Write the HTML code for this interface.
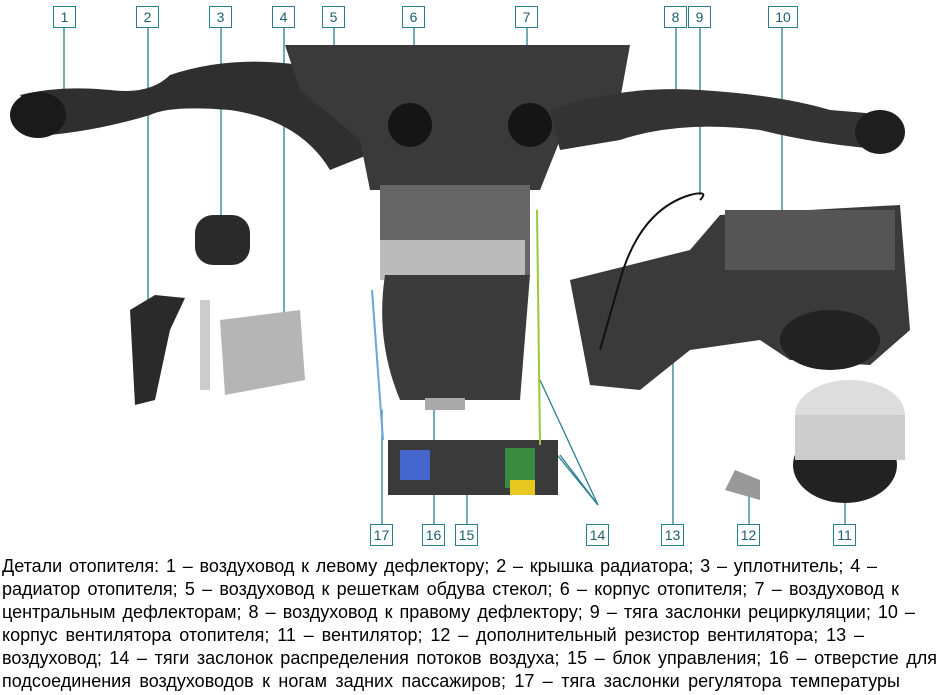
<!DOCTYPE html>
<html><head><meta charset="utf-8"><style>
body{margin:0;width:952px;height:695px;background:#fff;overflow:hidden;position:relative;font-family:"Liberation Sans",sans-serif}
.b{position:absolute;width:21px;height:20px;border:1px solid #2a7f8f;color:#1d5f6f;font-size:14px;text-align:center;line-height:20px;background:#fff}
.cap{position:absolute;left:2px;top:555px;font-size:18px;line-height:23px;color:#000}
.cap div{white-space:nowrap;text-align:justify;text-align-last:justify;overflow:visible}
svg{position:absolute;left:0;top:0}
</style></head><body>
<svg width="952" height="550">
<g stroke="#2a7f8f" stroke-width="1.3">
<line x1="64" y1="28" x2="64" y2="95"/><line x1="148" y1="28" x2="148" y2="310"/><line x1="221" y1="28" x2="221" y2="215"/><line x1="284" y1="28" x2="284" y2="315"/><line x1="334" y1="28" x2="334" y2="60"/><line x1="414" y1="28" x2="414" y2="240"/><line x1="527" y1="28" x2="527" y2="95"/><line x1="676" y1="28" x2="676" y2="95"/><line x1="700" y1="28" x2="700" y2="195"/><line x1="782" y1="28" x2="782" y2="210"/>
<line x1="382" y1="524" x2="382" y2="410"/><line x1="434" y1="524" x2="434" y2="405"/><line x1="467" y1="524" x2="467" y2="480"/><line x1="598" y1="505" x2="545" y2="440"/><line x1="598" y1="505" x2="560" y2="455"/><line x1="598" y1="505" x2="540" y2="380"/><line x1="673" y1="524" x2="673" y2="340"/><line x1="749" y1="524" x2="749" y2="490"/><line x1="845" y1="524" x2="845" y2="455"/>
</g>
<path d="M20 95 Q60 85 110 90 Q150 95 170 75 Q230 55 300 65 L360 70 L380 150 L330 170 Q300 120 230 110 Q170 105 150 115 Q100 130 50 135 Z" fill="#2f2f2f"/>
<ellipse cx="38" cy="115" rx="28" ry="23" fill="#1a1a1a"/>
<path d="M285 45 L630 45 L620 100 L560 140 L540 190 L370 190 L360 140 L300 90 Z" fill="#3a3a3a"/>
<path d="M550 110 Q620 85 700 90 Q780 95 830 110 L890 115 L890 150 Q820 145 760 130 Q680 120 620 140 L560 150 Z" fill="#333"/>
<ellipse cx="880" cy="132" rx="25" ry="22" fill="#1e1e1e"/>
<circle cx="410" cy="125" r="22" fill="#151515"/><circle cx="530" cy="125" r="22" fill="#151515"/>
<rect x="380" y="185" width="150" height="90" fill="#666"/>
<rect x="380" y="240" width="145" height="40" fill="#bbb"/>
<path d="M385 275 L530 275 L520 400 L400 400 Q375 340 385 275Z" fill="#3b3b3b"/>
<rect x="425" y="398" width="40" height="12" fill="#aaa"/>
<path d="M570 280 L690 250 L720 215 L900 205 L910 330 L870 365 L790 360 L760 340 L690 350 L640 390 L590 385 Z" fill="#3a3a3a"/>
<rect x="725" y="210" width="170" height="60" fill="#555"/>
<ellipse cx="830" cy="340" rx="50" ry="30" fill="#222"/>
<path d="M700 200 Q710 190 690 195 Q640 210 620 280 L600 350" stroke="#111" stroke-width="2" fill="none"/>
<ellipse cx="845" cy="465" rx="52" ry="38" fill="#222"/>
<ellipse cx="850" cy="415" rx="55" ry="35" fill="#ddd"/>
<rect x="795" y="415" width="110" height="45" fill="#ccc"/>
<rect x="195" y="215" width="55" height="50" rx="18" fill="#2a2a2a"/>
<path d="M130 310 L155 295 L185 298 L170 330 L155 400 L135 405 Z" fill="#2a2a2a"/>
<rect x="200" y="300" width="10" height="90" fill="#ccc"/>
<path d="M220 320 L300 310 L305 380 L225 395 Z" fill="#b5b5b5"/>
<rect x="388" y="440" width="170" height="55" fill="#3a3a3a"/>
<rect x="400" y="450" width="30" height="30" fill="#4466cc"/><rect x="505" y="448" width="30" height="40" fill="#3a8a40"/><rect x="510" y="480" width="25" height="15" fill="#e6c81e"/>
<path d="M735 470 L760 480 L760 500 L725 490Z" fill="#999"/>
<line x1="372" y1="290" x2="383" y2="440" stroke="#6aa6d8" stroke-width="2"/>
<line x1="537" y1="210" x2="540" y2="445" stroke="#9ac83a" stroke-width="2"/>
</svg>
<div class="b" style="left:53px;top:6px">1</div><div class="b" style="left:136px;top:6px">2</div><div class="b" style="left:209px;top:6px">3</div><div class="b" style="left:272px;top:6px">4</div><div class="b" style="left:322px;top:6px">5</div><div class="b" style="left:402px;top:6px">6</div><div class="b" style="left:515px;top:6px">7</div><div class="b" style="left:664px;top:6px">8</div><div class="b" style="left:688px;top:6px">9</div><div class="b" style="left:768px;top:6px;width:28px">10</div>
<div class="b" style="left:370px;top:524px">17</div><div class="b" style="left:422px;top:524px">16</div><div class="b" style="left:455px;top:524px">15</div><div class="b" style="left:586px;top:524px">14</div><div class="b" style="left:661px;top:524px">13</div><div class="b" style="left:737px;top:524px">12</div><div class="b" style="left:833px;top:524px">11</div>
<div class="cap">
<div style="width:875px">Детали отопителя: 1 – воздуховод к левому дефлектору; 2 – крышка радиатора; 3 – уплотнитель; 4 –</div>
<div style="width:897px">радиатор отопителя; 5 – воздуховод к решеткам обдува стекол; 6 – корпус отопителя; 7 – воздуховод к</div>
<div style="width:913px">центральным дефлекторам; 8 – воздуховод к правому дефлектору; 9 – тяга заслонки рециркуляции; 10 –</div>
<div style="width:862px">корпус вентилятора отопителя; 11 – вентилятор; 12 – дополнительный резистор вентилятора; 13 –</div>
<div style="width:935px">воздуховод; 14 – тяги заслонок распределения потоков воздуха; 15 – блок управления; 16 – отверстие для</div>
<div style="width:898px">подсоединения воздуховодов к ногам задних пассажиров; 17 – тяга заслонки регулятора температуры</div>
</div>
</body></html>
